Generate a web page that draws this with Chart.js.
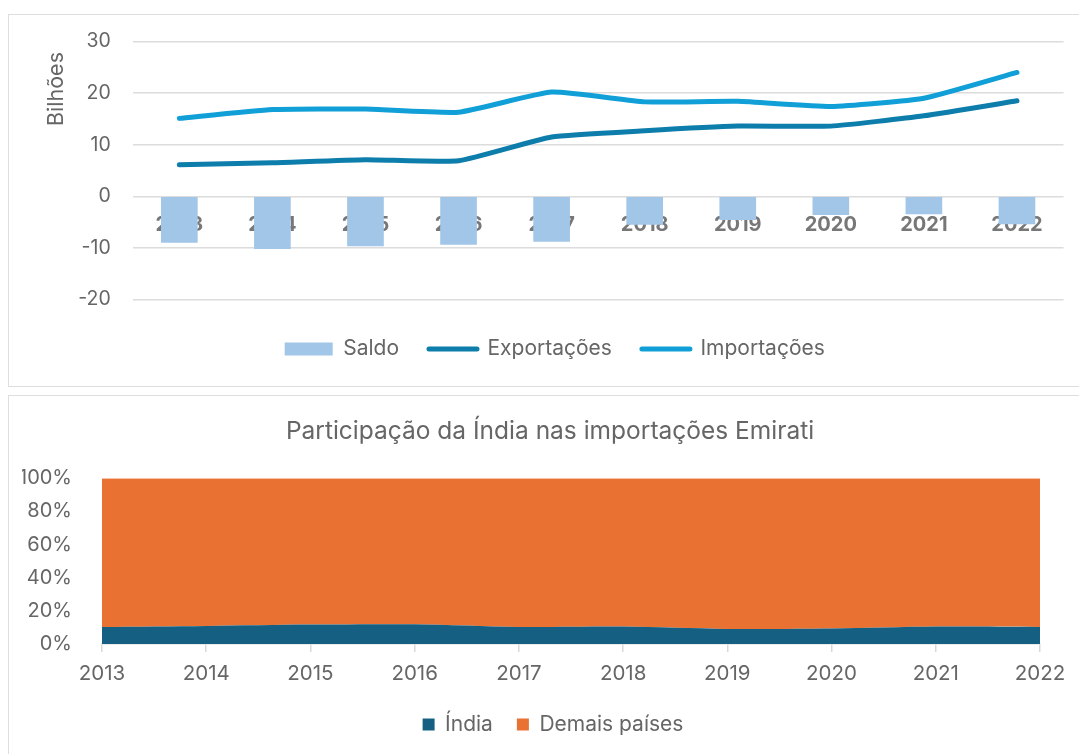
<!DOCTYPE html>
<html><head><meta charset="utf-8">
<script src="https://cdn.jsdelivr.net/npm/chart.js@4.4.0/dist/chart.umd.min.js"></script>
<style>
html,body{margin:0;padding:0;background:#fff;width:1079px;height:754px;overflow:hidden;position:relative;font-family:Inter}
.frame{position:absolute;border:1.5px solid #dedede;box-sizing:border-box}
#f1{left:8px;top:14px;width:1100px;height:373px}
#f2{left:8px;top:395px;width:1100px;height:400px}
#c1{position:absolute;left:0;top:0}
#c2{position:absolute;left:0;top:390px}
</style></head><body>
<div class="frame" id="f1"></div><div class="frame" id="f2"></div>
<canvas id="c1" width="1079" height="390"></canvas>
<canvas id="c2" width="1079" height="380"></canvas>
<script>
const years = ['2013','2014','2015','2016','2017','2018','2019','2020','2021','2022'];
const saldo = [-9.0, -10.2, -9.7, -9.4, -8.8, -5.5, -4.6, -3.6, -3.5, -5.4];
const exportacoes = [6.1, 6.5, 7.1, 6.9, 11.5, 12.7, 13.6, 13.6, 15.6, 18.5];
const importacoes = [15.1, 16.8, 16.9, 16.3, 20.2, 18.3, 18.4, 17.4, 19.0, 24.0];
const yTicksTop = {min: -20, max: 30, step: 10};
const india = [10.3, 10.9, 11.7, 11.9, 10.3, 10.5, 9.1, 9.3, 10.5, 10.3];
const demais = [89.7, 89.1, 88.3, 88.1, 89.7, 89.5, 90.9, 90.7, 89.5, 89.7];

const C_SALDO = '#A2C6E7', C_EXP = '#0D7DAB', C_IMP = '#119FD7';
const C_INDIA = '#156082', C_DEMAIS = '#E97132';
const TXT = '#666666';

Chart.defaults.font.family = 'Inter';
Chart.defaults.color = TXT;

const yTitle = {
  id: 'yTitle',
  afterDraw(chart) {
    const ctx = chart.ctx;
    ctx.save();
    ctx.translate(56.5, chart.chartArea.top + 47.5);
    ctx.rotate(-Math.PI / 2);
    ctx.font = '21.5px Inter';
    ctx.fillStyle = TXT;
    ctx.textAlign = 'center';
    ctx.textBaseline = 'middle';
    ctx.fillText('Bilhões', 0, 0);
    ctx.restore();
  }
};

// shift the centred title and legend of the lower chart to the right, as in the reference
const shiftBlocks = {
  id: 'shiftBlocks',
  afterLayout(chart) {
    if (chart.legend) { chart.legend.left += 22; chart.legend.right += 22; }
    if (chart.titleBlock) { chart.titleBlock.left += 19; chart.titleBlock.right += 19; }
  }
};

const ch1 = new Chart(document.getElementById('c1'), {
  data: {
    labels: years,
    datasets: [
      {type: 'bar', label: 'Saldo', data: saldo, backgroundColor: C_SALDO, barPercentage: 0.394, categoryPercentage: 1, order: 3},
      {type: 'line', label: 'Exportações', data: exportacoes, borderColor: C_EXP, borderWidth: 5, borderCapStyle: 'round', borderJoinStyle: 'round', pointRadius: 0, tension: 0.15, order: 1},
      {type: 'line', label: 'Importações', data: importacoes, borderColor: C_IMP, borderWidth: 5, borderCapStyle: 'round', borderJoinStyle: 'round', pointRadius: 0, tension: 0.15, order: 2}
    ]
  },
  options: {
    responsive: false, animation: false,
    layout: {padding: {left: 46, right: 15.5, top: 41.5, bottom: 20.5}},
    scales: {
      x: {position: {y: 0}, z: 1, offset: true,
          grid: {display: false, drawTicks: false}, border: {display: false},
          ticks: {font: {size: 20, weight: 'bold'}, color: '#777', padding: 16.5}},
      y: {min: yTicksTop.min, max: yTicksTop.max,
          ticks: {stepSize: yTicksTop.step, padding: 22, font: {size: 19.5}, color: TXT},
          grid: {color: '#dcdcdc', lineWidth: 1.5, drawTicks: false}, border: {display: false},
          afterFit(s) { s.width = 86.8; }}
    },
    plugins: {
      tooltip: {enabled: false},
      legend: {position: 'bottom',
        title: {display: true, text: '', font: {size: 1}, padding: {top: 7.8, bottom: 0}},
        labels: {usePointStyle: true, pointStyleWidth: 48, boxHeight: 13, padding: 30, font: {size: 21}, color: TXT,
          generateLabels(chart) {
            return chart.data.datasets.map((d, i) => ({
              text: d.label, datasetIndex: i, hidden: false, fontColor: TXT,
              fillStyle: d.type === 'bar' ? d.backgroundColor : d.borderColor,
              strokeStyle: d.type === 'bar' ? d.backgroundColor : d.borderColor,
              lineWidth: d.type === 'bar' ? 0 : 5, lineCap: 'round',
              pointStyle: d.type === 'bar' ? 'rect' : 'line'
            }));
          }}}
    }
  },
  plugins: [yTitle]
});

const ch2 = new Chart(document.getElementById('c2'), {
  type: 'line',
  data: {
    labels: years,
    datasets: [
      {label: 'Índia', data: india, backgroundColor: C_INDIA, borderColor: C_INDIA, borderWidth: 0, fill: 'origin', pointRadius: 0, tension: 0.3},
      {label: 'Demais países', data: demais, backgroundColor: C_DEMAIS, borderColor: C_DEMAIS, borderWidth: 0, fill: '-1', pointRadius: 0, tension: 0.3}
    ]
  },
  options: {
    responsive: false, animation: false,
    layout: {padding: {left: 22, right: 39, top: 0, bottom: 25}},
    scales: {
      x: {offset: false,
          grid: {display: true, drawOnChartArea: false, drawTicks: true, tickLength: 8, color: '#d9d9d9', lineWidth: 1.5},
          border: {display: true, color: '#d9d9d9', width: 1.5},
          ticks: {font: {size: 20.5}, color: TXT, padding: 10, maxRotation: 0},
          afterFit(s) { s.height = 46; }},
      y: {stacked: true, min: 0, max: 100,
          ticks: {stepSize: 20, padding: 22, font: {size: 20}, color: TXT, callback: v => v + '%'},
          grid: {display: false}, border: {display: false},
          afterFit(s) { s.width = 80; }}
    },
    plugins: {
      tooltip: {enabled: false},
      title: {display: true, text: 'Participação da Índia nas importações Emirati', color: TXT,
              font: {size: 24.5, weight: 'normal'}, padding: {top: 27, bottom: 31.9}},
      legend: {position: 'bottom', labels: {boxWidth: 12, boxHeight: 12, padding: 24, font: {size: 21}, color: TXT}}
    }
  },
  plugins: [shiftBlocks]
});
</script>
</body></html>
